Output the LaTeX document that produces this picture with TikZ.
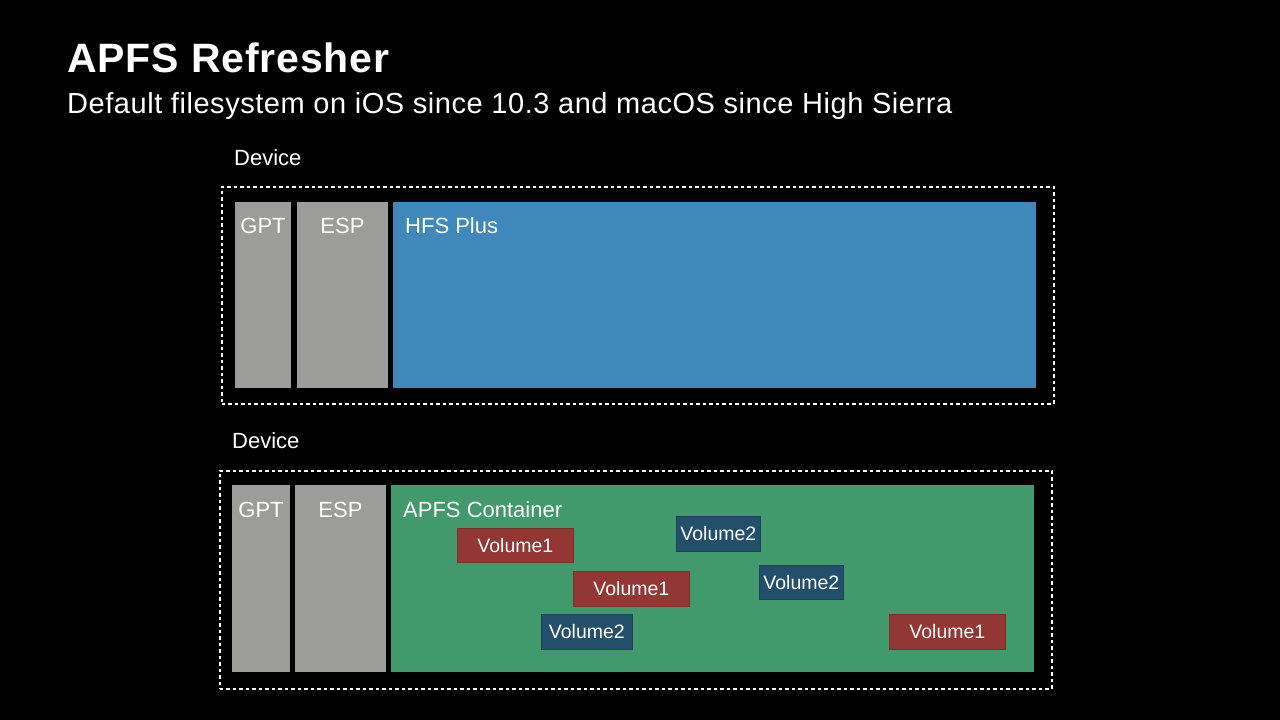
\documentclass[tikz,border=0pt]{standalone}
\usepackage{fontspec}
\setmainfont{Liberation Sans}
\definecolor{partgray}{HTML}{9C9D9A}
\definecolor{hfsblue}{HTML}{4088BC}
\definecolor{apfsgreen}{HTML}{429A6C}
\definecolor{volred}{HTML}{923734}
\definecolor{volblue}{HTML}{234E6C}
\tikzset{
	% Blocks of a device: filled rectangles placed by their top left corner
	part/.style n args={3}{rectangle,anchor=north west,inner sep=0,outer sep=0,fill=#1,minimum width=#2,minimum height=#3},
	% Volume boxes inside the container
	volume/.style n args={3}{rectangle,anchor=north west,inner sep=0,fill=#1,draw=#1!85!black,line width=0.8,minimum width=#2,minimum height=#3,text=white,font=\fontsize{19.5}{23}\selectfont},
	% Dashed outline round a device
	device box/.style={rectangle,anchor=north west,inner sep=0,draw=white,line width=1.6,dash pattern=on 3.5pt off 3pt,minimum width=832,minimum height=217},
	lbl/.style={inner sep=0,text=white,font=\fontsize{22}{26}\selectfont}
}
\begin{document}
\begin{tikzpicture}[x=1pt,y=-1pt]

% slide background
\fill[black] (0,0) rectangle (1280,720);

% title and subtitle
\node[inner sep=0, anchor=base west, text=white, font=\fontsize{41}{48}\selectfont\bfseries\addfontfeature{LetterSpace=2}] (title) at (67,72) {APFS Refresher};
\node[inner sep=0, anchor=base west, text=white, font=\fontsize{29}{34}\selectfont\addfontfeature{LetterSpace=1.9}] (subtitle) at (67,113) {Default filesystem on iOS since 10.3 and macOS since High Sierra};

% first device (HFS Plus)
\node[lbl, anchor=base west] (devt1) at (234,165) {Device};
\node[device box] (dev1) at (221,186) {};
\node[part={partgray}{56}{186}] (gpt1) at (235,202) {};
\node[part={partgray}{91}{186}] (esp1) at (297,202) {};
\node[part={hfsblue}{643}{186}] (hfs) at (393,202) {};
\node[lbl, anchor=base] (gpt1t) at ([yshift=-31pt]gpt1.north) {GPT};
\node[lbl, anchor=base] (esp1t) at ([yshift=-31pt]esp1.north) {ESP};
\node[lbl, anchor=base west] (hfst) at ([shift={(12pt,-31pt)}]hfs.north west) {HFS Plus};

% second device (APFS)
\node[lbl, anchor=base west] (devt2) at (232,448) {Device};
\node[device box, minimum height=218] (dev2) at (219,470) {};
\node[part={partgray}{58}{187}] (gpt2) at (232,485) {};
\node[part={partgray}{91}{187}] (esp2) at (295,485) {};
\node[part={apfsgreen}{643}{187}] (apfs) at (391,485) {};
\node[lbl, anchor=base] (gpt2t) at ([yshift=-32pt]gpt2.north) {GPT};
\node[lbl, anchor=base] (esp2t) at ([yshift=-32pt]esp2.north) {ESP};
\node[lbl, anchor=base west] (apfst) at ([shift={(12pt,-32pt)}]apfs.north west) {APFS Container};

% volumes
\node[volume={volred}{116}{34}] (v1a) at (457,528) {Volume1};
\node[volume={volred}{116}{35}] (v1b) at (573,571) {Volume1};
\node[volume={volred}{116}{35}] (v1c) at (889,614) {Volume1};
\node[volume={volblue}{84}{35}] (v2a) at (676,516) {Volume2};
\node[volume={volblue}{84}{34}] (v2b) at (759,565) {Volume2};
\node[volume={volblue}{91}{35}] (v2c) at (541,614) {Volume2};

\end{tikzpicture}
\end{document}
